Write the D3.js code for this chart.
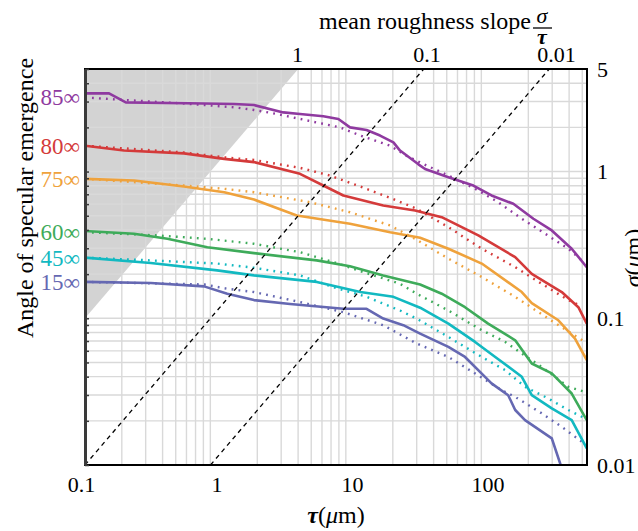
<html>
<head>
<script src="https://cdn.jsdelivr.net/npm/d3@7"></script>
<style>
  body { margin: 0; background: #fff; }
  text { font-family: "Liberation Serif", "Times New Roman", serif; }
</style>
</head>
<body>
<svg id="svg" width="638" height="531"></svg>
<script>
// curves: [tau (um), sigma (um)]
const s85 = [[0.107,3.41],[0.161,3.41],[0.214,2.96],[0.809,2.91],[1.35,2.89],[1.89,2.84],[3.11,2.53],[4.13,2.47],[6.14,2.38],[7.93,2.28],[9.66,2.00],[12.8,1.92],[16.1,1.76],[20.2,1.58],[22.6,1.39],[30.9,1.12],[34.6,1.04],[51.4,0.915],[78.6,0.803],[107,0.687],[155,0.603],[218,0.477],[298,0.397],[418,0.298],[540,0.223]];
const d85 = [[0.107,3.20],[0.214,3.07],[0.575,2.91],[1.35,2.74],[1.89,2.63],[2.78,2.47],[5.49,2.16],[8.15,2.00],[11.5,1.76],[19.1,1.50],[25.3,1.28],[32.7,1.14],[51.4,0.939],[80.9,0.763],[120,0.618],[179,0.477],[266,0.377],[395,0.298],[496,0.248]];
const s80 = [[0.107,1.50],[0.208,1.39],[0.575,1.33],[1.14,1.22],[1.89,1.16],[4.13,0.965],[6.51,0.782],[8.63,0.687],[17.0,0.587],[29.2,0.543],[45.9,0.489],[85.5,0.367],[160,0.261],[212,0.201],[353,0.151],[468,0.119],[540,0.092]];
const d80 = [[0.107,1.50],[0.575,1.35],[1.14,1.25],[1.89,1.20],[4.13,1.06],[6.88,0.939],[11.5,0.791],[19.1,0.662],[30.0,0.558],[51.4,0.418],[90.6,0.298],[160,0.223],[251,0.172],[395,0.133],[496,0.121]];
const s75 = [[0.107,0.892],[0.246,0.869],[0.575,0.791],[1.14,0.723],[1.89,0.645],[3.91,0.502],[9.66,0.441],[19.1,0.386],[31.8,0.354],[51.4,0.298],[90.6,0.236],[179,0.151],[212,0.127],[333,0.0969],[442,0.0728],[540,0.0518]];
const d75 = [[0.107,0.892],[0.575,0.803],[1.14,0.763],[1.89,0.723],[4.90,0.618],[9.66,0.528],[19.1,0.429],[30.0,0.343],[51.4,0.255],[90.6,0.191],[160,0.140],[281,0.0995],[418,0.0787],[524,0.069]];
const s60 = [[0.107,0.393],[0.246,0.377],[0.434,0.348],[0.855,0.305],[1.89,0.278],[5.49,0.248],[9.66,0.226],[17.0,0.196],[31.8,0.170],[45.9,0.147],[68.2,0.119],[101,0.092],[160,0.0708],[212,0.0492],[298,0.0421],[418,0.0307],[540,0.0202]];
const d60 = [[0.107,0.386],[0.366,0.367],[0.855,0.348],[1.89,0.322],[4.13,0.282],[7.28,0.242],[12.8,0.203],[22.6,0.172],[30.0,0.147],[51.4,0.113],[90.6,0.0829],[135,0.069],[179,0.0575],[251,0.0466],[395,0.0341],[524,0.0315]];
const s45 = [[0.107,0.259],[0.327,0.238],[1.01,0.212],[1.89,0.196],[5.49,0.177],[11.5,0.151],[20.2,0.140],[31.8,0.118],[51.4,0.092],[80.9,0.069],[114,0.0545],[179,0.0399],[212,0.0299],[298,0.0243],[418,0.0202],[540,0.013]];
const d45 = [[0.107,0.259],[0.327,0.248],[1.01,0.236],[1.89,0.221],[4.13,0.196],[7.28,0.163],[12.8,0.140],[22.6,0.113],[30.0,0.0995],[51.4,0.0746],[90.6,0.0545],[135,0.0443],[189,0.0341],[281,0.0284],[395,0.0237],[524,0.0208]];
const s15 = [[0.107,0.177],[0.327,0.174],[0.809,0.165],[1.20,0.147],[1.89,0.133],[3.49,0.125],[8.63,0.116],[12.8,0.116],[17.0,0.0995],[23.9,0.0897],[31.8,0.0787],[51.4,0.0638],[68.2,0.0545],[95.8,0.0399],[107,0.036],[142,0.0299],[160,0.0237],[189,0.0202],[298,0.0152],[349,0.0098]];
const d15 = [[0.107,0.177],[0.809,0.170],[1.20,0.159],[1.89,0.151],[4.13,0.129],[8.63,0.110],[17.0,0.0897],[30.0,0.0673],[51.4,0.0545],[80.9,0.0421],[127,0.0324],[160,0.0291],[251,0.0225],[353,0.0182],[496,0.0144]];

const angles = ["85∞", "80∞", "75∞", "60∞", "45∞", "15∞"];
const colors = ["#8f3aa0", "#d43a3a", "#efa23c", "#3eab5a", "#12b9c1", "#6568b2"];
const solids = [s85, s80, s75, s60, s45, s15];
const dotteds = [d85, d80, d75, d60, d45, d15];

const xTicks = [0.1, 1, 10, 100];
const yTicks = [5, 1, 0.1, 0.01];
const slopeTicks = [1, 0.1, 0.01];
const slopeLines = [0.1, 0.01];
const shadeSlope = 1;

const L = 85, R = 587, T = 69, B = 465;
const svg = d3.select("#svg");

const x = d3.scaleLog().domain([0.107, 542]).range([L, R]);
const y = d3.scaleLog().domain([0.01, 5]).range([B, T]);
// the slope overlay in the figure sits on its own tau scale
const xs = d3.scaleLog().domain([0.1, 1000]).range([L, R]);
const xTop = d3.scaleLog().domain([1, 0.01]).range([297, 556]);

svg.append("clipPath").attr("id", "clip")
  .append("rect").attr("x", L).attr("y", T).attr("width", R - L).attr("height", B - T);
const plot = svg.append("g").attr("clip-path", "url(#clip)");

// shaded region sigma > tau
plot.append("path")
  .attr("d", d3.line()([[xs(0.1), y(0.1 * shadeSlope)], [xs(5 / shadeSlope), y(5)], [xs(0.1), y(5)]]))
  .attr("fill", "#d3d3d3");

// grid
const xg = x.ticks().filter(v => Math.abs(Math.log10(v) - Math.round(Math.log10(v))) > 1e-6);
plot.selectAll("line.xg").data(xg).enter().append("line")
  .attr("x1", d => x(d)).attr("x2", d => x(d)).attr("y1", T).attr("y2", B)
  .style("stroke", "#d9d9d9").style("stroke-width", 1.4);
const yg = y.ticks().filter(v => v > 0.0101 && v < 4.99);
plot.selectAll("line.yg").data(yg).enter().append("line")
  .attr("x1", L).attr("x2", R).attr("y1", d => y(d)).attr("y2", d => y(d))
  .style("stroke", "#d9d9d9").style("stroke-width", 1.4);

const line = d3.line().x(d => x(d[0])).y(d => y(d[1]));

dotteds.forEach((ds, i) => {
  plot.append("path").attr("d", line(ds))
    .style("fill", "none").style("stroke", colors[i])
    .style("stroke-width", 2.4).style("stroke-dasharray", "1.8 5.2");
});
solids.forEach((ds, i) => {
  plot.append("path").attr("d", line(ds))
    .style("fill", "none").style("stroke", colors[i])
    .style("stroke-width", 2.6).style("stroke-linejoin", "round");
});

// constant slope lines
slopeLines.forEach(m => {
  plot.append("path")
    .attr("d", d3.line()([[xs(0.01 / m), y(0.01)], [xs(5 / m), y(5)]]))
    .style("fill", "none").style("stroke", "#000")
    .style("stroke-width", 1.3).style("stroke-dasharray", "4.5 4");
});

// frame
svg.append("rect").attr("x", L).attr("y", T).attr("width", R - L).attr("height", B - T)
  .style("fill", "none").style("stroke", "#000").style("stroke-width", 2);

const leftAxis = svg.append("g").attr("transform", `translate(${L},0)`)
  .call(d3.axisRight(y).tickValues(y.ticks()).tickFormat("").tickSize(4).tickSizeOuter(0));
leftAxis.select(".domain").style("stroke", "#3a3a3a").style("stroke-width", 3);
leftAxis.selectAll(".tick line").style("stroke", "#3a3a3a").style("stroke-width", 1.5);

const fmt = d => String(d);
const bottomAxis = svg.append("g").attr("transform", `translate(0,${B})`)
  .call(d3.axisBottom(x).tickValues(xTicks).tickFormat(fmt).tickSize(0).tickPadding(11));
const rightAxis = svg.append("g").attr("transform", `translate(${R},0)`)
  .call(d3.axisRight(y).tickValues(yTicks).tickFormat(fmt).tickSize(0).tickPadding(10));
const topAxis = svg.append("g").attr("transform", `translate(0,${T})`)
  .call(d3.axisTop(xTop).tickValues(slopeTicks).tickFormat(fmt).tickSize(0).tickPadding(7));
[bottomAxis, rightAxis, topAxis].forEach(a => {
  a.select(".domain").remove();
  a.selectAll("text").style("font-family", "Liberation Serif").style("font-size", "22px").style("fill", "#000");
});

// angle labels at the start of each curve
svg.selectAll("text.ang").data(angles).enter().append("text")
  .attr("x", 80).attr("y", (d, i) => y(dotteds[i][0][1]) + 8)
  .attr("text-anchor", "end").style("font-size", "23px")
  .style("fill", (d, i) => colors[i]).text(d => d);

// titles
svg.append("text").attr("transform", "translate(33,198) rotate(-90)")
  .attr("text-anchor", "middle").style("font-size", "24px").text("Angle of specular emergence");

const rt = svg.append("text").attr("transform", "translate(641,258) rotate(-90)")
  .attr("text-anchor", "middle").style("font-size", "24px");
rt.append("tspan").style("font-style", "italic").text("σ");
rt.append("tspan").text("(");
rt.append("tspan").style("font-style", "italic").text("μ");
rt.append("tspan").text("m)");

const bt = svg.append("text").attr("x", 336).attr("y", 523)
  .attr("text-anchor", "middle").style("font-size", "24px");
bt.append("tspan").style("font-style", "italic").style("font-weight", "bold").text("τ");
bt.append("tspan").text("(");
bt.append("tspan").style("font-style", "italic").text("μ");
bt.append("tspan").text("m)");

svg.append("text").attr("x", 531).attr("y", 29).attr("text-anchor", "end")
  .style("font-size", "24px").text("mean roughness slope");
svg.append("text").attr("x", 542).attr("y", 23).attr("text-anchor", "middle")
  .style("font-size", "22px").style("font-style", "italic").text("σ");
svg.append("line").attr("x1", 533).attr("x2", 552).attr("y1", 28).attr("y2", 28)
  .style("stroke", "#000").style("stroke-width", 1.3);
svg.append("text").attr("x", 542).attr("y", 44).attr("text-anchor", "middle")
  .style("font-size", "22px").style("font-style", "italic").style("font-weight", "bold").text("τ");
</script>
</body>
</html>
